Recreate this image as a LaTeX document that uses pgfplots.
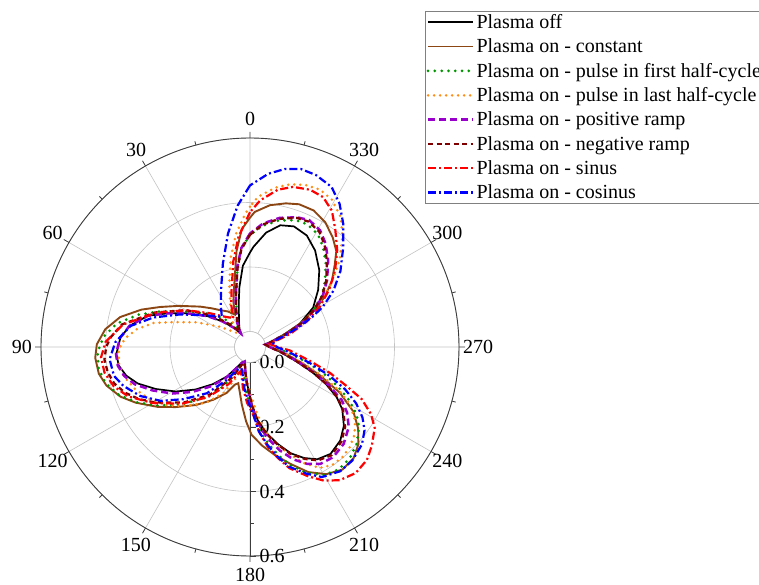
\documentclass[border=0pt]{standalone}
\usepackage{fontspec}
\setmainfont{Liberation Serif}
\usepackage{pgfplots}
\usepackage{pgfplotstable}
\pgfplotsset{compat=1.18}
\usepgfplotslibrary{polar}
\definecolor{cbrown}{RGB}{140,70,20}
\definecolor{cgreen}{RGB}{0,150,0}
\definecolor{corange}{RGB}{255,140,20}
\definecolor{cpurple}{RGB}{153,0,204}
\definecolor{cdarkred}{RGB}{128,0,0}
\definecolor{cred}{RGB}{255,0,0}
\definecolor{cblue}{RGB}{0,0,255}
\definecolor{cgrid}{RGB}{195,195,195}
\definecolor{caxis}{RGB}{60,60,60}

\pgfplotstableread{
t r
0 0.245
5 0.205
10 0.141
15 0.088
20 0.052
25 0.032
30 0.017
34 0.002
40 0.030
47 0.068
54 0.115
62 0.175
68 0.230
73 0.283
80 0.331
86 0.355
93 0.367
98 0.363
103 0.346
108 0.318
114 0.272
121 0.220
128 0.166
135 0.115
142 0.068
147 0.028
153 0.005
160 0.000
167 0.020
176 0.070
182 0.132
186 0.180
191 0.225
196 0.265
201 0.305
206 0.335
211 0.358
217 0.367
224 0.355
230 0.332
236 0.297
240 0.262
244 0.214
248 0.160
253 0.100
261 0.046
270 0.012
279 0.000
284 0.020
290 0.065
295 0.122
302 0.183
310 0.228
318 0.273
326 0.313
333 0.340
340 0.350
346 0.341
352 0.310
358 0.263
360 0.245
}\tblack

\pgfplotstableread{
t r
0 0.353
4 0.318
8 0.252
14 0.153
20 0.103
25 0.063
32 0.082
39 0.099
45 0.122
51 0.151
60 0.207
66 0.257
71 0.308
77 0.365
83 0.404
89 0.427
94 0.433
100 0.428
105 0.413
111 0.382
116 0.346
123 0.293
129 0.248
137 0.198
145 0.152
153 0.112
158 0.078
162 0.070
167 0.094
172 0.133
177 0.183
181 0.224
187 0.260
193 0.296
199 0.335
205 0.380
211 0.412
217 0.428
223 0.423
228 0.404
233 0.372
238 0.330
243 0.265
248 0.185
253 0.120
261 0.055
270 0.015
280 0.002
285 0.025
290 0.064
295 0.123
300 0.187
304 0.232
309 0.279
314 0.317
318 0.352
323 0.378
329 0.404
335 0.419
341 0.420
346 0.411
352 0.396
358 0.371
360 0.353
}\tbrown

\pgfplotstableread{
t r
0 0.300
5 0.258
9 0.200
15 0.120
20 0.075
28 0.035
32 0.014
37 0.040
43 0.073
48 0.100
54 0.130
62 0.190
69 0.258
74 0.314
80 0.371
86 0.407
92 0.425
98 0.426
104 0.414
110 0.385
116 0.343
122 0.294
130 0.230
138 0.165
146 0.100
150 0.050
156 0.010
161 0.008
167 0.040
176 0.100
183 0.160
187 0.215
191 0.260
195 0.302
199 0.340
204 0.378
210 0.410
216 0.421
222 0.415
228 0.398
234 0.370
238 0.340
242 0.298
246 0.248
250 0.198
255 0.135
262 0.070
270 0.020
279 0.000
283 0.012
290 0.070
295 0.128
300 0.180
305 0.222
311 0.260
318 0.303
324 0.337
329 0.360
335 0.372
340 0.370
347 0.355
354 0.330
360 0.300
}\tgreen

\pgfplotstableread{
t r
0 0.387
2 0.366
7 0.306
12 0.238
18 0.159
26 0.091
32 0.060
38 0.032
43 0.012
47 0.020
52 0.040
56 0.064
65 0.133
72 0.202
76 0.260
81 0.307
86 0.340
91 0.359
97 0.362
103 0.354
110 0.332
118 0.301
125 0.266
133 0.221
142 0.170
150 0.117
155 0.064
159 0.030
163 0.020
168 0.030
175 0.060
182 0.110
186 0.160
190 0.215
195 0.262
200 0.305
205 0.350
210 0.385
215 0.398
220 0.398
225 0.390
230 0.375
235 0.350
240 0.310
244 0.260
248 0.195
252 0.135
258 0.075
265 0.035
274 0.010
281 0.025
289 0.083
296 0.146
302 0.207
308 0.272
314 0.338
320 0.398
325 0.443
331 0.475
336 0.486
341 0.483
346 0.472
351 0.452
357 0.418
360 0.387
}\torange

\pgfplotstableread{
t r
0 0.304
5 0.260
9 0.204
15 0.122
20 0.082
28 0.035
34 0.003
40 0.030
47 0.068
54 0.115
62 0.175
68 0.230
73 0.283
80 0.331
86 0.356
93 0.368
98 0.366
103 0.352
108 0.327
114 0.283
121 0.232
128 0.178
135 0.125
142 0.075
147 0.032
153 0.008
160 0.000
167 0.020
176 0.075
182 0.140
186 0.190
191 0.240
196 0.285
201 0.325
206 0.355
211 0.375
217 0.380
224 0.370
231 0.346
236 0.315
240 0.280
244 0.225
248 0.168
253 0.108
261 0.050
270 0.013
279 0.000
282 0.015
290 0.073
295 0.135
300 0.183
305 0.227
311 0.269
318 0.314
324 0.350
329 0.374
335 0.386
340 0.380
347 0.363
354 0.337
360 0.304
}\tpurple

\pgfplotstableread{
t r
0 0.300
5 0.257
9 0.200
15 0.120
20 0.080
28 0.034
35 0.010
40 0.040
50 0.105
60 0.180
70 0.265
80 0.355
86 0.385
90 0.398
95 0.405
100 0.400
105 0.388
110 0.365
115 0.333
120 0.295
130 0.220
140 0.145
150 0.060
157 0.005
163 0.005
170 0.035
176 0.072
182 0.135
186 0.183
191 0.228
196 0.268
201 0.308
206 0.338
211 0.362
217 0.372
224 0.360
230 0.337
236 0.300
240 0.265
244 0.218
248 0.163
253 0.103
261 0.047
270 0.012
279 0.000
282 0.015
290 0.072
295 0.132
300 0.180
305 0.224
311 0.265
318 0.309
324 0.345
329 0.369
335 0.381
340 0.378
347 0.360
354 0.334
360 0.300
}\tdarkred

\pgfplotstableread{
t r
0 0.370
6 0.295
11 0.223
18 0.137
24 0.095
30 0.055
40 0.075
50 0.115
60 0.180
70 0.262
80 0.352
88 0.400
94 0.415
100 0.410
106 0.392
112 0.360
120 0.300
130 0.225
140 0.155
150 0.085
158 0.034
164 0.045
170 0.080
177 0.125
183 0.165
186 0.215
190 0.265
194 0.306
198 0.347
204 0.390
209 0.426
214 0.450
220 0.462
226 0.456
231 0.438
237 0.413
241 0.381
245 0.334
248 0.275
252 0.213
257 0.142
265 0.076
272 0.030
279 0.015
288 0.082
294 0.144
300 0.202
306 0.256
312 0.307
318 0.356
324 0.402
329 0.445
334 0.469
339 0.474
345 0.466
350 0.447
356 0.408
360 0.370
}\tred

\pgfplotstableread{
t r
0 0.453
5 0.392
11 0.310
18 0.224
27 0.150
35 0.110
43 0.080
48 0.095
54 0.119
65 0.191
73 0.265
80 0.328
88 0.370
95 0.389
102 0.383
107 0.363
114 0.325
121 0.276
128 0.215
137 0.148
145 0.077
150 0.035
158 0.023
165 0.040
172 0.080
178 0.120
183 0.163
186 0.215
190 0.259
194 0.301
198 0.342
204 0.382
209 0.413
216 0.428
222 0.426
229 0.412
234 0.391
238 0.363
242 0.325
246 0.275
250 0.216
255 0.144
262 0.077
270 0.035
278 0.025
284 0.030
288 0.065
292 0.112
296 0.170
299 0.211
304 0.264
310 0.318
317 0.376
323 0.432
328 0.476
333 0.509
339 0.523
344 0.526
349 0.514
354 0.492
360 0.453
}\tblue

\begin{document}
\begin{tikzpicture}
\begin{polaraxis}[
  width=418pt, height=418pt, scale only axis,
  xmin=-90, xmax=270, ymin=0, ymax=0.648,
  xtick={-90,-60,...,240},
  xticklabels={180,210,240,270,300,330,0,30,60,90,120,150},
  minor xtick={-75,-45,...,255},
  ytick={0.048,0.248,0.448,0.648},
  yticklabels={0.0,0.2,0.4,0.6},
  minor ytick={0.148,0.348,0.548},
  xmajorgrids, ymajorgrids,
  major grid style={cgrid, line width=0.6pt},
  axis line style={caxis, line width=0.9pt},
  tick style={caxis, line width=0.8pt},
  major tick length=6pt, minor tick length=4pt,
  tick label style={font=\fontsize{20}{24}\selectfont},
  xticklabel style={anchor=center, shift={(\tick:19pt)}},
  yticklabel style={xshift=6pt},
  /pgf/number format/assume math mode=true,
  legend style={at={(0.919,1.304)}, anchor=north west, draw=gray, line width=0.8pt,
    font=\fontsize{20}{24}\selectfont, inner sep=1pt, row sep=4.9pt,
    /tikz/every even column/.append style={column sep=2pt}},
  legend cell align=left,
  legend image code/.code={\draw[#1] (0pt,0pt) -- (45pt,0pt);},
]
\coordinate (c) at (axis cs:0,0);
\fill[white] (axis cs:0,0) circle[radius=15pt];
\draw[cgrid, line width=0.6pt] (axis cs:0,0) circle[radius=15.5pt];
\addplot[black, line width=1.7pt] table[x expr=\thisrow{t}+90, y expr=\thisrow{r}+0.048] {\tblack};
\addlegendentry{Plasma off}
\addplot[cbrown, line width=1.9pt] table[x expr=\thisrow{t}+90, y expr=\thisrow{r}+0.048] {\tbrown};
\addlegendentry{Plasma on - constant}
\addplot[cgreen, line width=3pt, line cap=round, dash pattern=on 0pt off 6.8pt] table[x expr=\thisrow{t}+90, y expr=\thisrow{r}+0.048] {\tgreen};
\addlegendentry{Plasma on - pulse in first half-cycle}
\addplot[corange, line width=2.8pt, line cap=round, dash pattern=on 0pt off 6pt] table[x expr=\thisrow{t}+90, y expr=\thisrow{r}+0.048] {\torange};
\addlegendentry{Plasma on - pulse in last half-cycle}
\addplot[cpurple, line width=2.5pt, dash pattern=on 7pt off 4pt] table[x expr=\thisrow{t}+90, y expr=\thisrow{r}+0.048] {\tpurple};
\addlegendentry{Plasma on - positive ramp}
\addplot[cdarkred, line width=2.3pt, dash pattern=on 5pt off 3.5pt] table[x expr=\thisrow{t}+90, y expr=\thisrow{r}+0.048] {\tdarkred};
\addlegendentry{Plasma on - negative ramp}
\addplot[cred, line width=2.2pt, dash pattern=on 8pt off 3pt on 2pt off 3pt] table[x expr=\thisrow{t}+90, y expr=\thisrow{r}+0.048] {\tred};
\addlegendentry{Plasma on - sinus}
\addplot[cblue, line width=2.2pt, dash pattern=on 8pt off 3pt on 2pt off 3pt] table[x expr=\thisrow{t}+90, y expr=\thisrow{r}+0.048] {\tblue};
\addlegendentry{Plasma on - cosinus}
\end{polaraxis}
\pgfresetboundingbox
\path[use as bounding box] ([shift={(-250pt,-238pt)}]c) rectangle ([shift={(509pt,347pt)}]c);
\end{tikzpicture}
\end{document}
